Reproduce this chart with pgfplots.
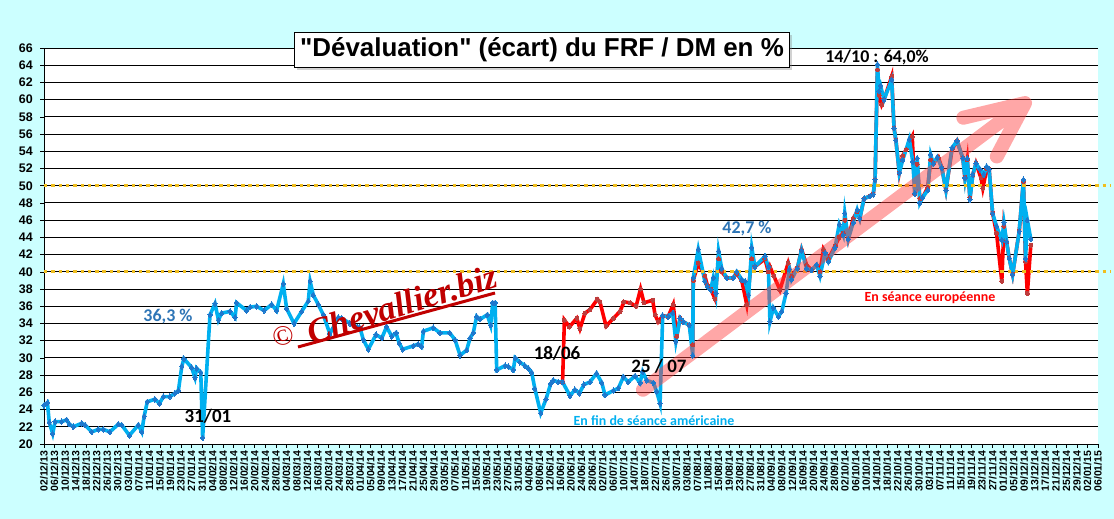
\documentclass[border=0pt]{standalone}
\usepackage{pgfplots}
\pgfplotsset{compat=1.18}
\usepackage{fontspec}
\setmainfont{Liberation Sans}
\newfontfamily\titlefont{Liberation Sans}[Ligatures=TeXOff]
\newfontfamily\calfont{Carlito}
\newfontfamily\wmfont{Liberation Serif}
\usetikzlibrary{shadows}
\definecolor{bg}{RGB}{204,255,255}
\definecolor{bline}{RGB}{0,176,240}
\definecolor{bmark}{RGB}{30,120,205}
\definecolor{rline}{RGB}{255,0,0}
\definecolor{rmark}{RGB}{190,60,60}
\definecolor{gold}{RGB}{240,190,30}
\definecolor{annblue}{RGB}{46,117,182}
\definecolor{wmred}{RGB}{192,0,0}
\definecolor{arrowc}{RGB}{255,60,60}
\begin{document}
\begin{tikzpicture}[x=1bp,y=1bp]
\fill[bg] (0,0) rectangle (1114,519);
\begin{axis}[at={(44bp,75bp)}, anchor=south west, scale only axis,
  width=1054bp, height=396bp, xmin=0, xmax=400, ymin=20, ymax=66,
  clip=false,
  ytick={20,22,...,66},
  xtick={0,4,...,400},
  xticklabels={02/12/13,06/12/13,10/12/13,14/12/13,18/12/13,22/12/13,26/12/13,30/12/13,03/01/14,07/01/14,11/01/14,15/01/14,19/01/14,23/01/14,27/01/14,31/01/14,04/02/14,08/02/14,12/02/14,16/02/14,20/02/14,24/02/14,28/02/14,04/03/14,08/03/14,12/03/14,16/03/14,20/03/14,24/03/14,28/03/14,01/04/14,05/04/14,09/04/14,13/04/14,17/04/14,21/04/14,25/04/14,29/04/14,03/05/14,07/05/14,11/05/14,15/05/14,19/05/14,23/05/14,27/05/14,31/05/14,04/06/14,08/06/14,12/06/14,16/06/14,20/06/14,24/06/14,28/06/14,02/07/14,06/07/14,10/07/14,14/07/14,18/07/14,22/07/14,26/07/14,30/07/14,03/08/14,07/08/14,11/08/14,15/08/14,19/08/14,23/08/14,27/08/14,31/08/14,04/09/14,08/09/14,12/09/14,16/09/14,20/09/14,24/09/14,28/09/14,02/10/14,06/10/14,10/10/14,14/10/14,18/10/14,22/10/14,26/10/14,30/10/14,03/11/14,07/11/14,11/11/14,15/11/14,19/11/14,23/11/14,27/11/14,01/12/14,05/12/14,09/12/14,13/12/14,17/12/14,21/12/14,25/12/14,29/12/14,02/01/15,06/01/15},
  axis background/.style={fill=white},
  axis x line*=bottom, axis y line*=left,
  ymajorgrids, grid style={black, line width=0.9bp},
  axis line style={black, line width=0.9bp},
  tick style={black, line width=0.6bp},
  tick align=outside, major tick length=4bp,
  /pgf/number format/assume math mode=true,
  yticklabel style={font=\bfseries\fontsize{12.5}{13}\selectfont, inner sep=2bp, xshift=-5bp},
  xticklabel style={rotate=90, anchor=east, font=\bfseries\fontsize{10.5}{11}\selectfont, inner sep=2.5bp},
]
% European session (red)
\addplot[rline, line width=3.6bp, mark=*, mark size=2bp, mark options={fill=rmark, draw=rmark, line width=0pt}] coordinates {
(196.8,27.2)(197.5,34.4)(199.4,33.6)(202.2,34.6)(203.4,33.4)(205.3,35.2)(207.2,35.6)(210,36.8)(211,36.5)(213.3,33.7)(216.1,34.6)(218.6,35.4)(220.1,36.5)(222.4,36.4)(224.7,36.0)(226.4,38.0)(227.7,36.4)(231,36.7)(231.9,35.0)(233.1,34.2)(234.8,34.9)(236.9,34.8)(238.8,36.2)(240.1,32.5)(241.4,34.6)(242.6,34.2)(244.9,33.8)(246.2,31.5)(246.4,39.0)(248.3,41.0)(250.8,39.5)(251.7,38.5)(253,38.0)(254.6,36.9)(256,41.5)(257.2,40.0)(259.1,39.3)(261.6,39.3)(262.9,39.8)(264.8,39.0)(266.7,36.2)(268.6,41.5)(269.8,40.6)(273.6,41.5)(274.9,40.0)(275.5,40.6)(277,39.5)(279.3,37.9)(282.4,41.0)(283.7,39.5)(285.9,40.4)(287.5,42.6)(289.4,40.8)(291.3,40.2)(293.2,40.8)(294.5,40.0)(295.8,42.6)(297.7,41.5)(300.2,43.0)(301.8,44.0)(303.3,44.5)(303.9,46.0)(305.2,43.8)(307.1,46.2)(308.6,47.0)(309.6,46.2)(311.2,48.5)(313.5,48.8)(314.7,49.0)(315.4,50.7)(316.3,63.5)(316.9,60.5)(317.9,59.4)(318.8,60.0)(321.7,62.7)(322.6,56.7)(323.3,55.3)(324.6,51.5)(325.9,53.5)(327.2,54.2)(329.5,55.7)(330.5,49.0)(331.4,52.5)(332.4,48.5)(333.4,48.6)(335.4,49.8)(336.5,53.0)(337.5,52.6)(339.4,53.3)(340.7,52.1)(342.3,49.5)(344.6,54.2)(346.5,55.2)(348.7,53.2)(349.5,51.0)(350.4,53.0)(351.4,48.6)(352.5,51.3)(353.7,52.6)(355.6,50.9)(356.3,49.7)(357.8,52.0)(358.7,51.9)(360,46.8)(361.5,44.5)(363.5,38.9)(364.3,45.3)(365.3,43.5)(366.3,41.6)(367.6,39.7)(370.1,44.7)(371.7,50.5)(372.5,41.2)(373.2,37.5)(374.5,43.1)
};
% American session (blue)
\addplot[bline, line width=3.6bp, mark=diamond*, mark size=2.8bp, mark options={fill=bmark, draw=bmark, line width=0pt}] coordinates {
(0,24.5)(1.3,24.8)(2,22.5)(3.3,21.2)(4.2,22.6)(6.7,22.6)(8.6,22.8)(9.6,22.3)(11.1,22.0)(14.3,22.4)(15.6,22.2)(18.1,21.4)(20.6,21.7)(22.5,21.7)(25,21.4)(28.2,22.3)(29.5,22.2)(32.4,21.0)(35.8,22.2)(37.1,21.4)(38,23.2)(39.2,24.9)(42.1,25.2)(43.8,24.7)(45.3,25.5)(47.8,25.5)(49.7,25.9)(51,26.2)(52.3,29.0)(53.1,29.9)(56,28.9)(57.3,27.7)(57.9,28.8)(59.5,28.3)(60.2,20.7)(63,35.0)(64.9,36.3)(66.2,34.4)(67.4,35.2)(70.6,35.4)(72.5,34.7)(73.1,36.4)(76.9,35.5)(78.2,35.9)(80.7,36.0)(83.5,35.5)(86.4,36.2)(88.3,35.5)(90.8,38.6)(92.1,35.7)(94.9,34.0)(97.8,35.4)(100.3,36.6)(101,38.9)(102.2,37.3)(104.1,36.2)(106,35.0)(108.5,32.8)(111.7,34.7)(113,34.6)(116.1,34.0)(118.9,33.6)(119.9,33.5)(121.2,32.1)(123.1,31.0)(126,32.7)(128.2,32.3)(130,33.6)(132,32.5)(133.6,32.9)(134.8,31.7)(136.1,31.0)(140.2,31.4)(142,31.6)(143.3,31.3)(144,33.1)(147.7,33.5)(150.3,32.9)(154,32.9)(156,32.1)(157.9,30.3)(160.4,30.9)(161.7,32.3)(162.9,32.9)(164.2,34.8)(165.5,34.5)(168.2,35.0)(169.5,33.8)(170.3,36.4)(171.2,36.4)(171.8,28.6)(175,29.1)(176.2,29.0)(178.1,28.6)(178.8,30.0)(180.6,29.5)(182.5,29.1)(183.8,28.8)(185.1,28.3)(186.3,26.4)(188.5,23.6)(190.5,25.2)(192.3,27.0)(193.3,27.4)(195.2,27.2)(196.8,27.2)(199.6,25.6)(201.5,26.3)(203.2,25.9)(204.9,26.9)(207.2,27.2)(209.7,28.2)(211.7,27.1)(212.9,25.7)(216.1,26.2)(218,26.5)(219.9,27.8)(221.7,27.2)(224.3,27.9)(226.2,27.1)(227.2,28.4)(228.7,27.4)(231.3,27.1)(232.5,26.1)(233.8,24.7)(234.8,34.9)(236.9,34.8)(238.6,35.2)(239.8,31.9)(241.4,34.6)(242.6,34.2)(244.9,33.8)(246.2,30.3)(246.4,39.3)(248.3,42.6)(250.8,38.9)(251.7,38.3)(253,37.9)(254,39.3)(255,37.5)(256,42.4)(257.2,40.4)(259.1,39.3)(261.6,39.3)(262.9,40.0)(264.8,39.1)(266.1,38.9)(267.4,37.3)(268.6,42.8)(269.8,40.6)(273.6,41.8)(274.9,40.6)(275.5,34.2)(276.8,35.8)(278.7,34.8)(280,35.4)(281.6,37.5)(282.9,40.3)(283.7,39.1)(285.9,40.4)(287.5,42.5)(289.4,40.4)(291.3,40.2)(293.2,40.8)(294.5,39.5)(296.4,42.2)(297.7,41.2)(300.2,42.8)(301.8,45.5)(303.3,44.3)(303.9,46.8)(305.2,43.8)(307.1,45.7)(308.6,47.2)(309.6,46.2)(311.2,48.5)(313.5,48.8)(314.7,49.0)(315.4,50.7)(316.3,64.1)(316.9,61.0)(317.5,61.6)(318.8,60.0)(321.7,62.3)(322.6,56.7)(323.3,55.3)(324.6,51.5)(325.9,53.0)(328.4,55.4)(329.7,52.8)(330.5,49.1)(331.4,53.2)(332.4,48.0)(333.4,48.6)(335.4,49.5)(336.5,53.6)(337.5,52.6)(339,53.3)(340.7,52.1)(342.3,49.5)(344.6,54.4)(346.5,55.2)(348.7,53.2)(349.5,50.9)(350.4,53.2)(351.4,48.4)(352.5,51.3)(353.7,52.6)(355.2,51.9)(356.7,51.3)(357.8,52.2)(358.7,51.9)(360,46.8)(361.5,45.3)(363.5,43.7)(364.3,45.7)(365.3,43.5)(366.3,41.6)(367.6,39.7)(370.1,44.7)(371.7,50.7)(372.5,41.5)(373.2,46.0)(374.5,43.8)
};
% reference levels
\addplot[gold, line width=3bp, dash pattern=on 3.4bp off 3.9bp, forget plot] coordinates {(0,40)(405,40)};
\addplot[gold, line width=3bp, dash pattern=on 3.4bp off 3.9bp, forget plot] coordinates {(0,50)(405,50)};
% trend arrow
\draw[arrowc, opacity=0.45, line width=14bp, line cap=round, line join=round]
  (axis cs:227.3,26.3) -- (axis cs:372.3,59.6)
  (axis cs:348.9,57.9) -- (axis cs:372.3,59.6) -- (axis cs:361.6,53.4);
\end{axis}
% title
\node[draw=black, line width=0.8bp, fill=white,
  drop shadow={shadow xshift=2.5bp, shadow yshift=-3bp, opacity=0.35},
  inner xsep=6bp, inner ysep=0bp, minimum height=35bp,
  font=\titlefont\bfseries\fontsize{26}{26}\selectfont] at (542,469.5) {"Dévaluation" (écart) du FRF / DM en \%};
% annotations
\node[font=\calfont\bfseries\fontsize{18}{18}\selectfont] at (877,462) {14/10 : 64,0\%};
\node[font=\calfont\bfseries\fontsize{18}{18}\selectfont, text=annblue] at (747,290) {42,7 \%};
\node[font=\calfont\bfseries\fontsize{18}{18}\selectfont, text=annblue] at (168,202) {36,3 \%};
\node[font=\calfont\bfseries\fontsize{19}{19}\selectfont] at (208,103) {31/01};
\node[font=\calfont\bfseries\fontsize{19}{19}\selectfont] at (557,166) {18/06};
\node[font=\calfont\bfseries\fontsize{19}{19}\selectfont] at (659,153) {25 / 07};
\node[font=\calfont\bfseries\fontsize{14}{14}\selectfont, text=bline] at (654,98) {En fin de séance américaine};
\node[font=\calfont\bfseries\fontsize{14}{14}\selectfont, text=rline] at (930,221) {En séance européenne};
% watermark
\node[rotate=15, text=wmred, font=\wmfont\fontsize{28}{28}\selectfont] at (283,183) {©};
\node[rotate=17, text=wmred, font=\wmfont\bfseries\itshape\fontsize{35}{35}\selectfont] at (402,215) {Chevallier.biz};
\draw[wmred, line width=3bp] (298,172) -- (495,226);
\pgfresetboundingbox
\useasboundingbox (0,0) rectangle (1114,519);
\end{tikzpicture}
\end{document}
